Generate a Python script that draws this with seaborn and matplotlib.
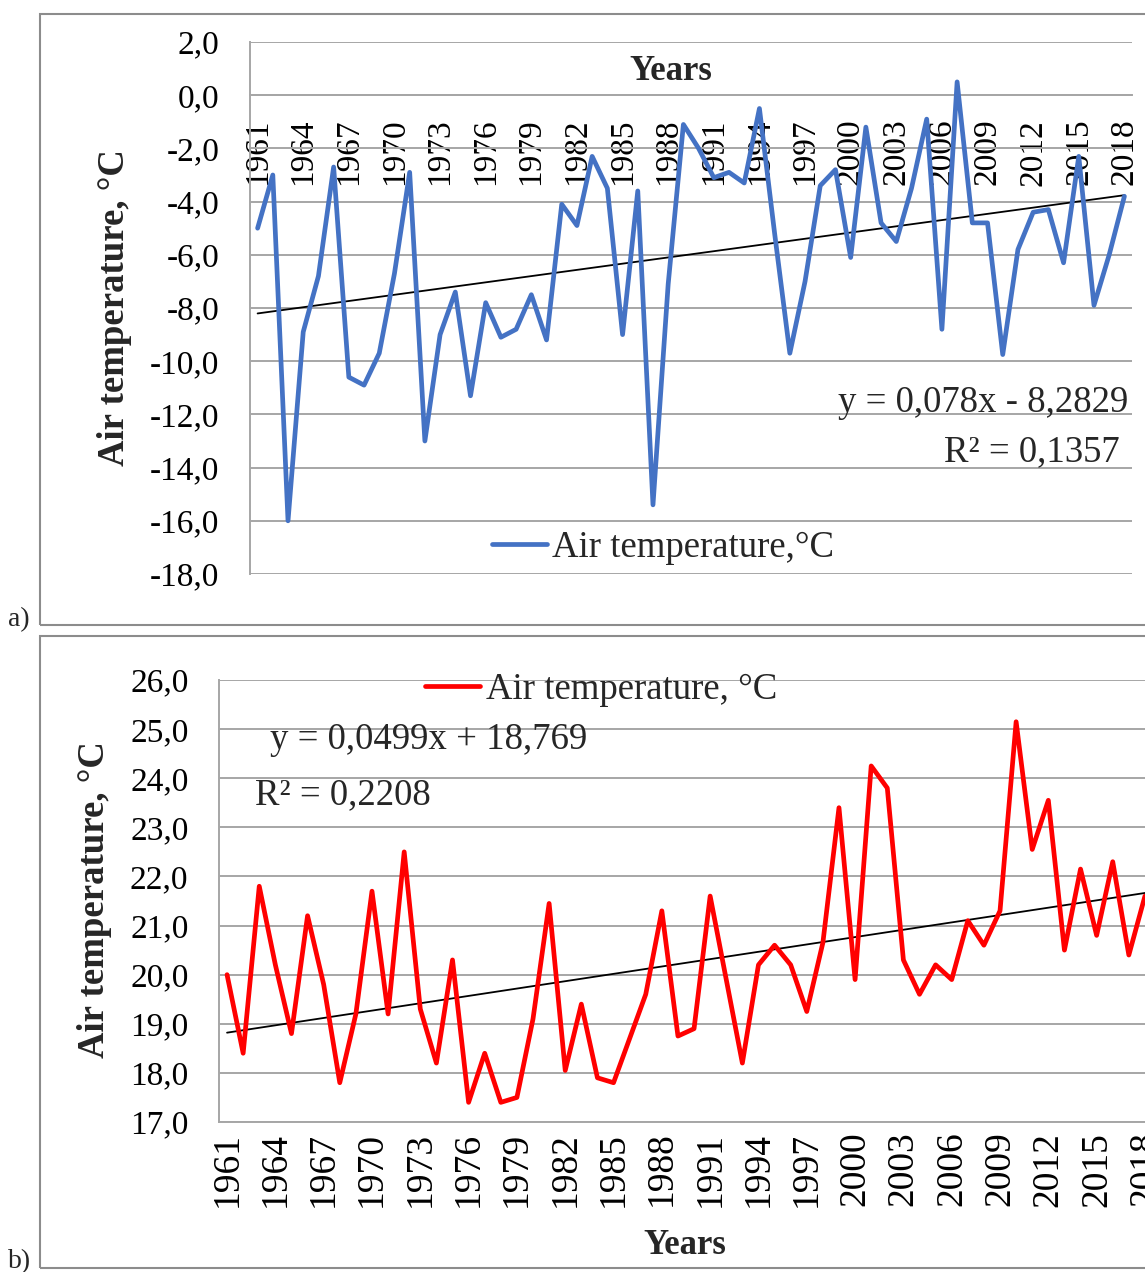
import numpy as np
import pandas as pd
import matplotlib
matplotlib.use("Agg")
import matplotlib.pyplot as plt
import seaborn as sns
from matplotlib.patches import Rectangle
from matplotlib.ticker import FixedLocator, FuncFormatter

# ---------------- data ----------------
years = list(range(1961, 2019))
winter_temp = [-5.0, -3.0, -16.0, -8.9, -6.8, -2.7, -10.6, -10.9, -9.7, -6.7,
               -2.9, -13.0, -9.0, -7.4, -11.3, -7.8, -9.1, -8.8, -7.5, -9.2,
               -4.1, -4.9, -2.3, -3.5, -9.0, -3.6, -15.4, -7.1, -1.1, -2.0,
               -3.1, -2.9, -3.3, -0.5, -5.2, -9.7, -7.0, -3.4, -2.8, -6.1,
               -1.2, -4.8, -5.5, -3.5, -0.9, -8.8, 0.5, -4.8, -4.8, -9.75,
               -5.8, -4.4, -4.3, -6.3, -2.3, -7.9, -6.0, -3.8]
summer_temp = [20.0, 18.4, 21.8, 20.2, 18.8, 21.2, 19.8, 17.8, 19.2, 21.7,
               19.2, 22.5, 19.3, 18.2, 20.3, 17.4, 18.4, 17.4, 17.5, 19.1,
               21.45, 18.05, 19.4, 17.9, 17.8, 18.7, 19.6, 21.3, 18.75, 18.9,
               21.6, 19.9, 18.2, 20.2, 20.6, 20.2, 19.25, 20.65, 23.4, 19.9,
               24.25, 23.8, 20.3, 19.6, 20.2, 19.9, 21.1, 20.6, 21.3, 25.15,
               22.55, 23.55, 20.5, 22.15, 20.8, 22.3, 20.4, 21.6]
tick_years = list(range(1961, 2019, 3))
trend_a_slope, trend_a_intercept = 0.078, -8.2829
trend_b_slope, trend_b_intercept = 0.0499, 18.769
eq_a = ["y = 0,078x - 8,2829", "R² = 0,1357"]
eq_b = ["y = 0,0499x + 18,769", "R² = 0,2208"]
legend_a = "Air temperature,°C"
legend_b = "Air temperature, °C"
ylabel_text = "Air temperature, °C"
xlabel_text = "Years"
panel_labels = ["a)", "b)"]

assert len(winter_temp) == len(years) == len(summer_temp)

df = pd.DataFrame({"year": years, "winter": winter_temp, "summer": summer_temp})
idx = np.arange(1, len(years) + 1)

# ---------------- style ----------------
sns.set_theme(style="white")
plt.rcParams["font.family"] = ["Liberation Serif", "DejaVu Serif"]

W, H = 1145, 1272
fig = plt.figure(figsize=(W / 100, H / 100), dpi=100)
fig.patch.set_facecolor("white")


def fx(x):
    return x / W


def fy(y):
    return 1 - y / H


GRID = "#a6a6a6"
FRAME = "#8c8c8c"
TICK_FS = 24
TEXT_FS = 26.5
comma_fmt = FuncFormatter(lambda v, p: f"{v:.1f}".replace(".", ","))

# outer frames
fig.patches.append(Rectangle((fx(40), fy(625)), fx(1150) - fx(40), fy(14) - fy(625),
                             transform=fig.transFigure, fill=False, ec=FRAME, lw=1.5))
fig.patches.append(Rectangle((fx(40), fy(1268)), fx(1150) - fx(40), fy(636) - fy(1268),
                             transform=fig.transFigure, fill=False, ec=FRAME, lw=1.5))


def style_axes(ax, ylo, yhi, ystep, xfs, xpad):
    ax.set_facecolor("none")
    ax.set_xlim(1960.5, 2018.5)
    ax.set_ylim(ylo, yhi)
    ax.yaxis.set_major_locator(FixedLocator(np.arange(ylo, yhi + 0.01, ystep)))
    ax.yaxis.set_major_formatter(comma_fmt)
    ax.yaxis.grid(True, color=GRID, lw=1.4)
    ax.xaxis.grid(False)
    for s in ["top", "right"]:
        ax.spines[s].set_visible(False)
    for s in ["left", "bottom"]:
        ax.spines[s].set_color(GRID)
        ax.spines[s].set_linewidth(1.4)
    ax.set_xticks(tick_years)
    ax.set_xticklabels([str(y) for y in tick_years])
    ax.set_xticks(np.arange(1960.5, 2018.6, 1.0), minor=True)
    ax.tick_params(axis="x", which="major", length=0, pad=xpad, labelsize=xfs,
                   labelcolor="black", labelrotation=90)
    ax.tick_params(axis="x", which="minor", length=8, width=1.4, color=GRID, direction="out")
    ax.tick_params(axis="y", which="major", length=8, width=1.4, color=GRID, direction="out",
                   pad=14, labelsize=TICK_FS, labelcolor="black")
    ax.set_xlabel("")
    ax.set_ylabel("")


# ---------------- panel a ----------------
ax1 = fig.add_axes([fx(250), fy(574), fx(1132) - fx(250), fy(42) - fy(574)])
ax1.plot(years, trend_a_slope * idx + trend_a_intercept, color="black", lw=1.3, zorder=2)
sns.lineplot(data=df, x="year", y="winter", ax=ax1, color="#4472C4", lw=3.4,
             label=legend_a, zorder=3)
ax1.spines["bottom"].set_position(("data", 0))
style_axes(ax1, -18, 2, 2, 24, 17)
ax1.legend(loc="center", bbox_to_anchor=(fx(663), fy(548)), bbox_transform=fig.transFigure,
           frameon=False, fontsize=TEXT_FS, handlelength=1.5, handletextpad=0.15)
fig.text(fx(1128), fy(403), eq_a[0], ha="right", va="center", fontsize=TEXT_FS)
fig.text(fx(1120), fy(452), eq_a[1], ha="right", va="center", fontsize=TEXT_FS)
fig.text(fx(671), fy(72), xlabel_text, ha="center", va="center", fontsize=TEXT_FS - 1.5,
         fontweight="bold")
fig.text(fx(115), fy(308), ylabel_text, ha="center", va="center", rotation=90,
         fontsize=TEXT_FS, fontweight="bold")
fig.text(fx(8), fy(620), panel_labels[0], ha="left", va="center", fontsize=20)

# ---------------- panel b ----------------
ax2 = fig.add_axes([fx(219), fy(1122), fx(1153) - fx(219), fy(680) - fy(1122)])
ax2.plot(years, trend_b_slope * idx + trend_b_intercept, color="black", lw=1.3, zorder=2)
sns.lineplot(data=df, x="year", y="summer", ax=ax2, color="#FF0000", lw=3.4,
             label=legend_b, zorder=3)
style_axes(ax2, 17, 26, 1, 27, 7)
ax2.legend(loc="center", bbox_to_anchor=(fx(601), fy(690)), bbox_transform=fig.transFigure,
           frameon=False, fontsize=TEXT_FS, handlelength=1.5, handletextpad=0.15)
fig.text(fx(270), fy(740), eq_b[0], ha="left", va="center", fontsize=TEXT_FS)
fig.text(fx(255), fy(795), eq_b[1], ha="left", va="center", fontsize=TEXT_FS)
fig.text(fx(685), fy(1245), xlabel_text, ha="center", va="center", fontsize=TEXT_FS - 1.5,
         fontweight="bold")
fig.text(fx(95), fy(900), ylabel_text, ha="center", va="center", rotation=90,
         fontsize=TEXT_FS, fontweight="bold")
fig.text(fx(8), fy(1262), panel_labels[1], ha="left", va="center", fontsize=20)

fig.savefig("out.png", dpi=100, facecolor="white")
